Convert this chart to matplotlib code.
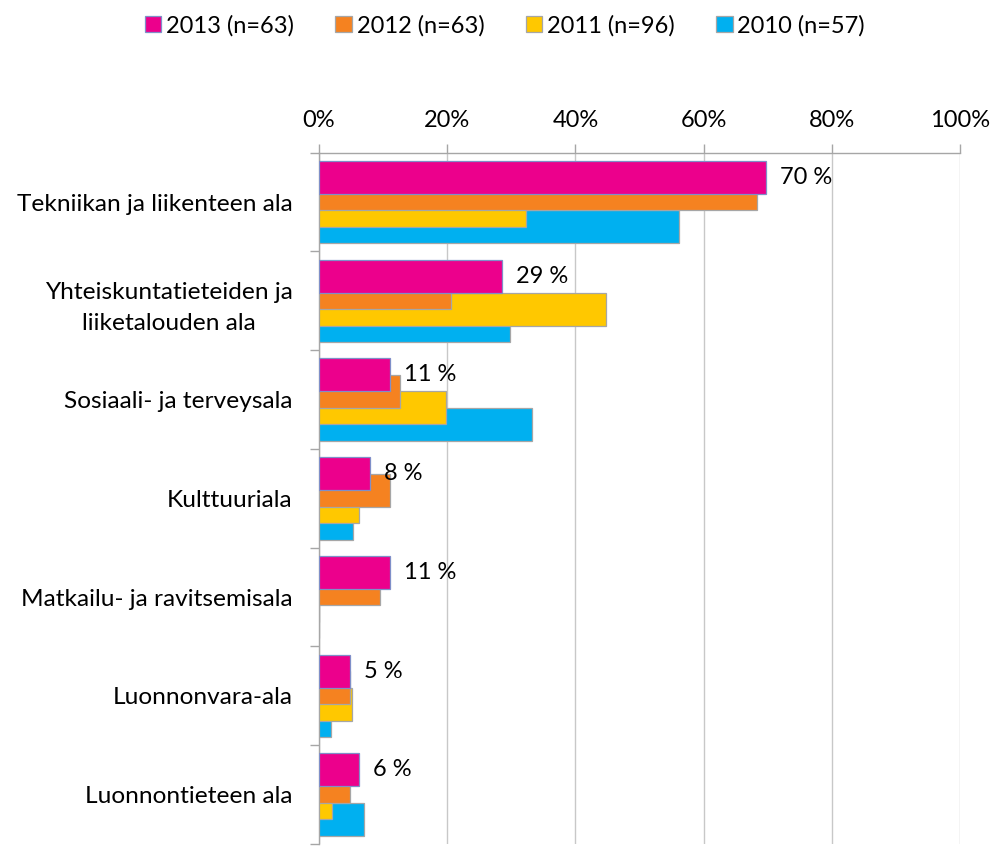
import matplotlib.pyplot as plt
from matplotlib.patches import Patch

plt.rcParams['font.family'] = ['Lato', 'DejaVu Sans']

# Aineisto
categories = ["Tekniikan ja liikenteen ala",
              "Yhteiskuntatieteiden ja\nliiketalouden ala",
              "Sosiaali- ja terveysala",
              "Kulttuuriala",
              "Matkailu- ja ravitsemisala",
              "Luonnonvara-ala",
              "Luonnontieteen ala"]
series_labels = ["2013 (n=63)", "2012 (n=63)", "2011 (n=96)", "2010 (n=57)"]
v2013 = [69.8, 28.6, 11.1, 7.9, 11.1, 4.8, 6.3]
v2012 = [68.3, 20.6, 12.7, 11.1, 9.5, 4.8, 4.8]
v2011 = [32.3, 44.8, 19.8, 6.3, 0.0, 5.2, 2.1]
v2010 = [56.1, 29.8, 33.3, 5.3, 0.0, 1.8, 7.0]
x_ticks = [0, 20, 40, 60, 80, 100]

series = [v2013, v2012, v2011, v2010]
colors = ['#EC008C', '#F58220', '#FFC800', '#00B0F0']
edges = ['#7f8fc8', '#a6a6a6', '#a6a6a6', '#a6a6a6']
fs = 17

fig = plt.figure(figsize=(9.92, 8.49), dpi=100)
ax = fig.add_axes([0.3216, 0.0059, 0.6462, 0.8142])

bar_h = 0.334
step = 0.167
offsets = [-1.5 * step, -0.5 * step, 0.5 * step, 1.5 * step]

# Tracé : 2010 en dessous, 2013 au-dessus
for k in range(3, -1, -1):
    y = [i + offsets[k] for i in range(len(categories))]
    ax.barh(y, series[k], height=bar_h, color=colors[k],
            edgecolor=edges[k], linewidth=0.9, zorder=3 + (3 - k))

# Étiquettes de données pour 2013
for i, v in enumerate(v2013):
    ax.annotate(f"{v:.0f} %", xy=(v, i + offsets[0]), xytext=(10, 0),
                textcoords='offset points', va='center', ha='left',
                fontsize=fs, color='black', zorder=10)

ax.set_xlim(0, 100)
ax.set_ylim(len(categories) - 0.5, -0.5)

# Axe x en haut
ax.xaxis.tick_top()
ax.set_xticks(x_ticks, [f"{t}%" for t in x_ticks])
ax.tick_params(axis='x', which='major', direction='out', length=6.5,
               width=1, color='#a6a6a6', labelsize=fs, pad=9)
ax.grid(axis='x', color='#c8c8c8', linewidth=1, zorder=0)

# Axe y : graduations entre catégories, libellés au centre
ax.set_yticks([i - 0.5 for i in range(len(categories) + 1)], [])
ax.set_yticks(range(len(categories)), categories, minor=True)
ax.tick_params(axis='y', which='major', direction='out', length=6.5,
               width=1, color='#a6a6a6')
ax.tick_params(axis='y', which='minor', length=0, labelsize=17.6, pad=19)
for lbl in ax.get_yticklabels(minor=True):
    lbl.set_multialignment('center')
    lbl.set_linespacing(1.6)

for s in ['right', 'bottom']:
    ax.spines[s].set_visible(False)
for s in ['top', 'left']:
    ax.spines[s].set_color('#a6a6a6')
    ax.spines[s].set_linewidth(1)

handles = [Patch(facecolor=c, edgecolor=e, linewidth=0.9) for c, e in zip(colors, edges)]
fig.legend(handles, series_labels, loc='center', bbox_to_anchor=(0.509, 0.97),
           ncol=4, frameon=False, fontsize=fs, handlelength=0.7,
           handleheight=0.7, handletextpad=0.2, columnspacing=1.75)

fig.savefig("out.png", dpi=100)
